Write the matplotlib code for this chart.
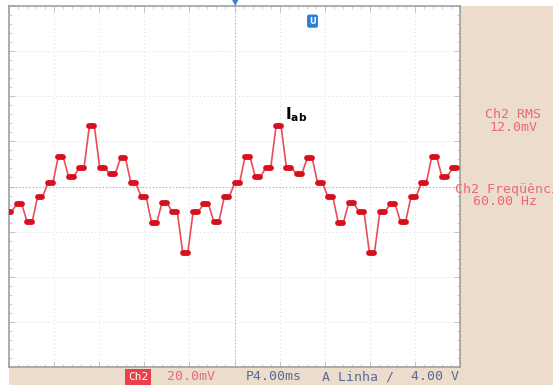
import numpy as np
import matplotlib.pyplot as plt
from matplotlib.patches import Rectangle

t_primeiro = 2.75      # ms, centro do primeiro degrau completo
dt_degrau = 0.92       # ms, duração de cada degrau (18 por ciclo de 60 Hz)
k_inicial = -3
niveis_mV = [
    -11.3, -7.8, -15.7,
    -4.7, 1.6, 13.1, 4.2, 8.2, 26.8, 8.2, 5.5, 12.6,
    1.6, -4.7, -16.2, -7.3, -11.3, -29.5, -11.3, -7.8, -15.7,
    -4.7, 1.6, 13.1, 4.2, 8.2, 26.8, 8.2, 5.5, 12.6,
    1.6, -4.7, -16.2, -7.3, -11.3, -29.5, -11.3, -7.8, -15.7,
    -4.7, 1.6, 13.1, 4.2, 8.2,
]

# Vértices da forma de onda (patamares + transições)
k = np.arange(k_inicial, k_inicial + len(niveis_mV))
centros = t_primeiro + k * dt_degrau
meia = 0.24 * dt_degrau
tt = np.column_stack([centros - meia, centros + meia]).ravel()
vv = np.repeat(niveis_mV, 2)

fig = plt.figure(figsize=(5.53, 3.85), dpi=100, facecolor="white")
fig.patches.append(Rectangle((9 / 553, 0), 1, 1 - 6 / 385, transform=fig.transFigure,
                             facecolor="#ecdccb", edgecolor="none", zorder=-5))

ax = fig.add_axes([9 / 553, 18 / 385, 451 / 553, 361 / 385])
ax.set_zorder(1)
ax.set_facecolor("white")
ax.set_xlim(0, 40)
ax.set_ylim(-80, 80)

# Grade
ax.set_xticks(np.arange(0, 41, 4))
ax.set_yticks(np.arange(-80, 81, 20))
ax.set_xticks(np.arange(0, 40.1, 0.8), minor=True)
ax.set_yticks(np.arange(-80, 80.1, 4), minor=True)
ax.tick_params(which="both", direction="in", top=True, right=True,
               labelbottom=False, labelleft=False, color="#b8b8c0")
ax.tick_params(which="major", length=4, width=0.6)
ax.tick_params(which="minor", length=2, width=0.5)
ax.grid(True, which="major", color="#d4d8e2", linestyle=(0, (1, 3)), linewidth=0.7)
ax.axhline(0, color="#a8b0c8", linestyle=(0, (1, 2)), linewidth=0.8)
ax.axvline(20, color="#a8b0c8", linestyle=(0, (1, 2)), linewidth=0.8)
for lado in ax.spines.values():
    lado.set_color("#a0a0a0")
    lado.set_linewidth(1.2)

# Traço
ax.plot(tt, vv, color="#ea4c58", linewidth=1.2, zorder=3)
for i in range(len(niveis_mV)):
    ax.plot(tt[2 * i:2 * i + 2], vv[2 * i:2 * i + 2], color="#d8101e",
            linewidth=4.2, solid_capstyle="round", zorder=4)

ax.text(24.5, 27.5, r"$\mathbf{I}_{\mathbf{ab}}$", fontsize=11, color="black",
        ha="left", va="bottom")

# Marcadores do topo
fig.text(235 / 553, 1 - 3 / 385, "\u25BC", color="#3a7fd0", fontsize=6,
         ha="center", va="center", zorder=5)
ax.text(0.673, 0.958, "U", transform=ax.transAxes, color="white", fontsize=6,
        fontweight="bold", ha="center", va="center",
        bbox=dict(boxstyle="round,pad=0.25", facecolor="#2f7fd8", edgecolor="none"))

# Painel direito
mono = "DejaVu Sans Mono"
rosa = "#e86a74"
fig.text(513 / 553, 1 - 121 / 385, "Ch2 RMS\n12.0mV", color=rosa, fontsize=9.5,
         family=mono, ha="center", va="center", linespacing=1.0)
fig.text(455 / 553, 1 - 190 / 385, "Ch2 Freqüência", color=rosa, fontsize=9.5,
         family=mono, ha="left", va="center", zorder=5)
fig.text(505 / 553, 1 - 202 / 385, "60.00 Hz", color=rosa, fontsize=9.5,
         family=mono, ha="center", va="center")

# Barra inferior
azul = "#5a6a9c"
fig.text(138 / 553, 1 - 377 / 385, "Ch2", color="white", fontsize=8, family=mono,
         ha="center", va="center",
         bbox=dict(boxstyle="square,pad=0.25", facecolor="#e8404c", edgecolor="none"))
fig.text(167 / 553, 1 - 377 / 385, "20.0mV", color=rosa, fontsize=9.5, family=mono,
         ha="left", va="center")
fig.text(246 / 553, 1 - 377 / 385, "P4.00ms", color=azul, fontsize=9.5, family=mono,
         ha="left", va="center")
fig.text(322 / 553, 1 - 377 / 385, "A Linha /", color=azul, fontsize=9.5, family=mono,
         ha="left", va="center")
fig.text(459 / 553, 1 - 377 / 385, "4.00 V", color=azul, fontsize=9.5, family=mono,
         ha="right", va="center")

plt.savefig("out.png", dpi=100, facecolor=fig.get_facecolor())
